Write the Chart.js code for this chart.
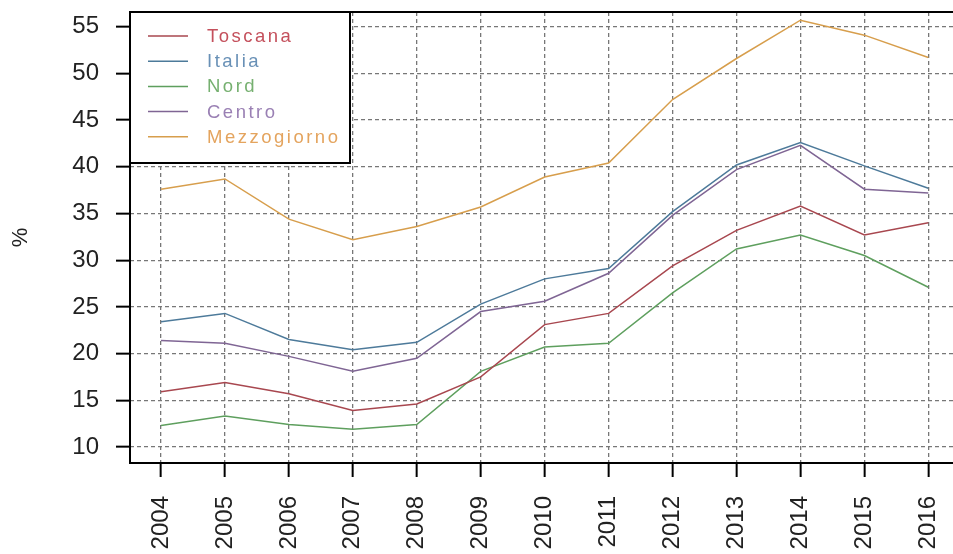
<!DOCTYPE html>
<html>
<head>
<meta charset="utf-8">
<script src="https://cdn.jsdelivr.net/npm/chart.js@4/dist/chart.umd.min.js"></script>
<style>
  html, body { margin: 0; padding: 0; background: #fff; overflow: hidden; }
  canvas { display: block; }
</style>
</head>
<body>
<canvas id="lineChart" width="953" height="554"></canvas>
<script>
// Values (%)
const years = [2004, 2005, 2006, 2007, 2008, 2009, 2010, 2011, 2012, 2013, 2014, 2015, 2016];
const toscana = [15.9, 16.9, 15.7, 13.9, 14.6, 17.5, 23.1, 24.3, 29.4, 33.2, 35.8, 32.7, 34.0];
const italia = [23.4, 24.3, 21.5, 20.4, 21.2, 25.3, 28.0, 29.1, 35.2, 40.2, 42.6, 40.1, 37.7];
const nord = [12.3, 13.3, 12.4, 11.9, 12.4, 18.1, 20.7, 21.1, 26.5, 31.2, 32.7, 30.5, 27.1];
const centro = [21.4, 21.1, 19.7, 18.1, 19.5, 24.5, 25.6, 28.6, 34.8, 39.7, 42.3, 37.6, 37.2];
const mezzogiorno = [37.6, 38.7, 34.4, 32.2, 33.6, 35.7, 38.9, 40.4, 47.2, 51.6, 55.7, 54.1, 51.7];
const yTicks = [10, 15, 20, 25, 30, 35, 40, 45, 50, 55];

const seriesNames = ['Toscana', 'Italia', 'Nord', 'Centro', 'Mezzogiorno'];
const seriesValues = [toscana, italia, nord, centro, mezzogiorno];
const lineColors = ['#a8474f', '#4d7a9a', '#5e9f5e', '#7f6594', '#d79e4c'];
const textColors = ['#c4505c', '#6890b6', '#76b070', '#9a80b4', '#e4a45e'];

const datasets = seriesNames.map((name, i) => ({
    label: name,
    data: years.map((yr, j) => ({ x: yr, y: seriesValues[i][j] })),
    borderColor: lineColors[i],
    backgroundColor: lineColors[i],
    borderWidth: 1.5,
    pointRadius: 0,
    tension: 0,
    fill: false
}));

// Box around the plot region (right side falls outside the picture)
const frame = {
    id: 'frame',
    afterDatasetsDraw(chart) {
        const { ctx, chartArea: a } = chart;
        ctx.save();
        ctx.strokeStyle = '#000';
        ctx.lineWidth = 2;
        ctx.beginPath();
        ctx.moveTo(a.right + 10, a.top);
        ctx.lineTo(a.left, a.top);
        ctx.lineTo(a.left, a.bottom);
        ctx.lineTo(a.right + 10, a.bottom);
        ctx.stroke();
        ctx.restore();
    }
};

// Legend box in the top left corner
const legendBox = {
    id: 'legendBox',
    afterDatasetsDraw(chart) {
        const { ctx, chartArea: a } = chart;
        const x0 = a.left, y0 = a.top, w = 220, h = 151;
        ctx.save();
        ctx.fillStyle = '#fff';
        ctx.fillRect(x0, y0, w, h);
        ctx.strokeStyle = '#000';
        ctx.lineWidth = 2;
        ctx.strokeRect(x0, y0, w, h);
        ctx.font = '18.5px "Liberation Sans", Arial, sans-serif';
        ctx.letterSpacing = '2.5px';
        ctx.textBaseline = 'middle';
        chart.data.datasets.forEach((ds, i) => {
            const y = y0 + 24 + i * 25.2;
            ctx.strokeStyle = ds.borderColor;
            ctx.lineWidth = 1.5;
            ctx.beginPath();
            ctx.moveTo(x0 + 18, y);
            ctx.lineTo(x0 + 58, y);
            ctx.stroke();
            ctx.fillStyle = textColors[i];
            ctx.fillText(ds.label, x0 + 77, y + 1);
        });
        ctx.restore();
    }
};

const tickFont = { family: '"Liberation Sans", Arial, sans-serif', size: 24 };
const gridOpts = {
    color: '#777',
    lineWidth: 1.3,
    tickLength: 14,
    tickColor: '#000',
    tickWidth: 2,
    tickBorderDash: []
};

new Chart(document.getElementById('lineChart').getContext('2d'), {
    type: 'line',
    data: { datasets: datasets },
    options: {
        responsive: false,
        animation: false,
        layout: { padding: { top: 12, right: 0, left: 0, bottom: 0 } },
        plugins: { legend: { display: false }, tooltip: { enabled: false } },
        scales: {
            x: {
                type: 'linear',
                min: 2003.515,
                max: 2016.386,
                afterBuildTicks: (scale) => { scale.ticks = years.map(v => ({ value: v })); },
                afterFit: (scale) => {
                    scale.height = 91;
                    scale.paddingLeft = 0;
                    scale.paddingRight = 0;
                },
                grid: gridOpts,
                border: { display: false, dash: [4, 3] },
                ticks: {
                    color: '#222',
                    font: tickFont,
                    minRotation: 90,
                    maxRotation: 90,
                    padding: 19,
                    callback: (v) => String(v)
                }
            },
            y: {
                type: 'linear',
                min: 8.28,
                max: 56.58,
                afterBuildTicks: (scale) => { scale.ticks = yTicks.map(v => ({ value: v })); },
                afterFit: (scale) => {
                    scale.width = 130;
                    scale.paddingTop = 0;
                    scale.paddingBottom = 0;
                },
                grid: gridOpts,
                border: { display: false, dash: [4, 3] },
                ticks: {
                    color: '#222',
                    font: tickFont,
                    padding: 17
                },
                title: {
                    display: true,
                    text: '%',
                    color: '#222',
                    font: { family: '"Liberation Sans", Arial, sans-serif', size: 22 },
                    padding: { top: 8, bottom: 0 }
                }
            }
        }
    },
    plugins: [frame, legendBox]
});
</script>
</body>
</html>
